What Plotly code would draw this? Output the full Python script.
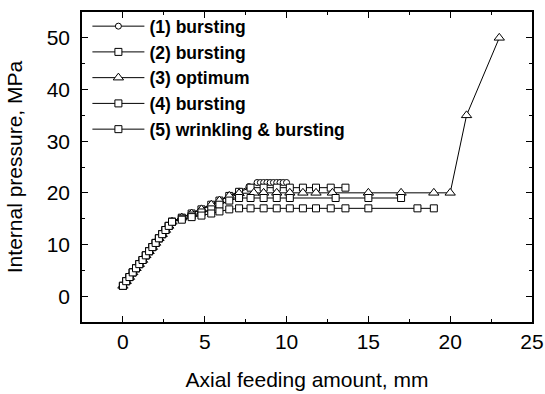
import plotly.graph_objects as go

# Shared initial loading ramp (axial feed in mm, internal pressure in MPa)
ramp_x = [0.0, 0.2, 0.4, 0.6, 0.8, 1.0, 1.2, 1.4, 1.6, 1.8, 2.0, 2.2, 2.4, 2.6, 2.8, 3.0]
ramp_y = [2.0, 2.9, 3.7, 4.6, 5.4, 6.2, 7.0, 7.9, 8.7, 9.5, 10.3, 11.2, 12.0, 12.8, 13.6, 14.4]

# (1) bursting
s1_x = [3.6, 4.2, 4.8, 5.4, 5.9, 6.5, 7.1, 7.7, 8.2, 8.4, 8.6, 8.8, 9.0, 9.2, 9.4, 9.6, 9.8, 10.0]
s1_y = [15.2, 16.0, 16.8, 17.7, 18.5, 19.4, 20.3, 21.2, 22.0, 22.0, 22.0, 22.0, 22.0, 22.0, 22.0, 22.0, 22.0, 22.0]

# (2) bursting
s2_x = [3.6, 4.2, 4.8, 5.4, 5.9, 6.5, 7.1, 7.8, 8.6, 9.4, 10.2, 11.0, 11.8, 12.7, 13.6]
s2_y = [15.2, 16.0, 16.8, 17.7, 18.5, 19.4, 20.2, 21.0, 21.0, 21.0, 21.0, 21.0, 21.0, 21.0, 21.0]

# (3) optimum
s3_x = [3.6, 4.2, 4.8, 5.4, 5.9, 6.5, 7.1, 8.0, 8.6, 9.4, 10.2, 11.0, 11.8, 12.8, 15.0, 17.0, 19.0, 20.0, 21.0, 23.0]
s3_y = [15.2, 16.0, 16.8, 17.7, 18.5, 19.4, 19.9, 20.0, 20.0, 20.0, 20.0, 20.0, 20.0, 20.0, 20.0, 20.0, 20.0, 20.0, 35.0, 50.0]

# (4) bursting
s4_x = [3.6, 4.2, 4.8, 5.4, 5.9, 6.5, 7.1, 7.8, 8.6, 9.4, 10.2, 13.0, 15.0, 17.0]
s4_y = [15.0, 15.6, 16.2, 16.8, 17.7, 18.5, 19.0, 19.0, 19.0, 19.0, 19.0, 19.0, 19.0, 19.0]

# (5) wrinkling & bursting
s5_x = [3.6, 4.2, 4.8, 5.4, 5.9, 6.5, 7.1, 7.8, 8.6, 9.4, 10.2, 11.0, 11.8, 12.7, 13.6, 15.0, 18.0, 19.0]
s5_y = [14.8, 15.3, 15.6, 16.0, 16.4, 16.8, 17.0, 17.0, 17.0, 17.0, 17.0, 17.0, 17.0, 17.0, 17.0, 17.0, 17.0, 17.0]

names = ["(1) bursting", "(2) bursting", "(3) optimum", "(4) bursting", "(5) wrinkling & bursting"]
symbols = ["circle", "square", "triangle-up", "square", "square"]
sizes = [6, 7, 9, 7, 7]
tails = [(s1_x, s1_y), (s2_x, s2_y), (s3_x, s3_y), (s4_x, s4_y), (s5_x, s5_y)]

fig = go.Figure()
for i, (tx, ty) in enumerate(tails):
    fig.add_trace(go.Scatter(
        x=ramp_x + tx, y=ramp_y + ty,
        mode="lines+markers",
        name=names[i],
        line=dict(color="black", width=1),
        marker=dict(symbol=symbols[i], size=sizes[i], color="white",
                    line=dict(color="black", width=1)),
    ))

axis_font = dict(family="Liberation Sans, Arial, sans-serif", size=21, color="black")

fig.update_layout(
    width=545, height=394,
    margin=dict(l=82, r=13, t=8, b=72),
    paper_bgcolor="white", plot_bgcolor="white",
    showlegend=True,
    legend=dict(
        x=0.012, y=1.012, xanchor="left", yanchor="top",
        bgcolor="rgba(0,0,0,0)", borderwidth=0,
        font=dict(family="Liberation Sans, Arial, sans-serif", size=17.5, color="black", weight="bold"),
        itemwidth=52, tracegroupgap=0,
    ),
    xaxis=dict(
        range=[-2.5, 25], tickmode="array", tickvals=[0, 5, 10, 15, 20, 25],
        ticks="inside", ticklen=6, tickwidth=1.3, tickcolor="black",
        minor=dict(ticks="inside", ticklen=3, dtick=2.5, tick0=0, tickcolor="black", tickwidth=1.3),
        showline=True, linecolor="black", linewidth=1.5, mirror="ticks",
        showgrid=False, zeroline=False,
        tickfont=axis_font, ticklabelstandoff=0,
        title=dict(text="Axial feeding amount, mm", font=axis_font, standoff=20),
        automargin=False,
    ),
    yaxis=dict(
        range=[-5, 55], tickmode="array", tickvals=[0, 10, 20, 30, 40, 50],
        ticks="inside", ticklen=6, tickwidth=1.3, tickcolor="black",
        minor=dict(ticks="inside", ticklen=3, dtick=5, tick0=0, tickcolor="black", tickwidth=1.3),
        showline=True, linecolor="black", linewidth=1.5, mirror="ticks",
        showgrid=False, zeroline=False,
        tickfont=axis_font, ticklabelstandoff=6,
        title=dict(text="Internal pressure, MPa", font=axis_font, standoff=18),
        automargin=False,
    ),
)

fig.write_html("out.html")
